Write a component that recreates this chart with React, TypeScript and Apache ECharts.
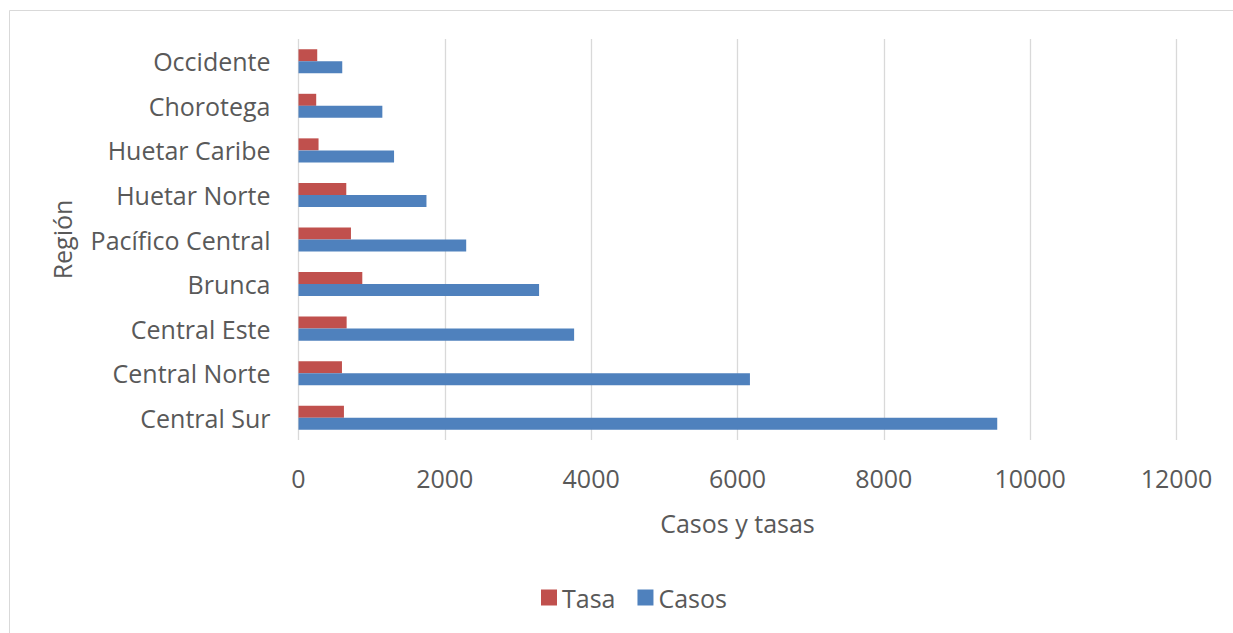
import React, { useEffect, useRef } from "react";
import * as echarts from "echarts";

// Regions, listed from the bottom of the chart to the top
const regions = [
  "Central Sur",
  "Central Norte",
  "Central Este",
  "Brunca",
  "Pacífico Central",
  "Huetar Norte",
  "Huetar Caribe",
  "Chorotega",
  "Occidente",
];

const casos = [9550, 6170, 3767, 3288, 2292, 1749, 1306, 1146, 598];
const tasa = [621, 594, 658, 872, 717, 653, 274, 242, 256];

const xTicks = { min: 0, max: 12000, interval: 2000 };

const FONT = "'Open Sans', 'Noto Sans', sans-serif";
const TEXT = "#595959";
const GRID = "#d9d9d9";

export default function App() {
  const ref = useRef<HTMLDivElement>(null);

  useEffect(() => {
    if (!ref.current) return;
    const chart = echarts.init(ref.current, undefined, { renderer: "svg" });
    chart.setOption({
      animation: false,
      backgroundColor: "#ffffff",
      textStyle: { fontFamily: FONT, color: TEXT },
      graphic: [
        {
          type: "rect",
          shape: { x: 9.5, y: 10.5, width: 1240, height: 640 },
          style: { fill: "none", stroke: GRID, lineWidth: 1 },
          silent: true,
        },
      ],
      grid: { left: 298.5, right: 56.5, top: 39, bottom: 193 },
      legend: {
        data: ["Tasa", "Casos"],
        left: 536,
        top: 580,
        itemWidth: 16,
        itemHeight: 16,
        itemGap: 22,
        icon: "rect",
        textStyle: { fontFamily: FONT, fontSize: 25, color: TEXT },
      },
      xAxis: {
        type: "value",
        min: xTicks.min,
        max: xTicks.max,
        interval: xTicks.interval,
        name: "Casos y tasas",
        nameLocation: "middle",
        nameGap: 70,
        nameTextStyle: { fontFamily: FONT, fontSize: 25, color: TEXT },
        axisLine: { show: false },
        axisTick: { show: false },
        axisLabel: {
          fontFamily: FONT,
          fontSize: 25,
          color: TEXT,
          margin: 25,
          formatter: (v: number) => String(v),
        },
        splitLine: { show: true, lineStyle: { color: GRID, width: 1.3 } },
      },
      yAxis: {
        type: "category",
        data: regions,
        name: "Región",
        nameLocation: "middle",
        nameGap: 224,
        nameRotate: 90,
        nameTextStyle: { fontFamily: FONT, fontSize: 25, color: TEXT },
        axisLine: { show: false },
        axisTick: { show: false },
        axisLabel: { fontFamily: FONT, fontSize: 25, color: TEXT, margin: 28 },
        splitLine: { show: false },
      },
      // Within each category the first series sits on top
      series: [
        {
          name: "Tasa",
          type: "bar",
          data: tasa,
          itemStyle: { color: "#C0504D" },
          barGap: "0%",
          barCategoryGap: "46%",
        },
        {
          name: "Casos",
          type: "bar",
          data: casos,
          itemStyle: { color: "#4F81BD" },
          barGap: "0%",
          barCategoryGap: "46%",
        },
      ],
    });
    return () => chart.dispose();
  }, []);

  return (
    <div
      ref={ref}
      style={{ position: "absolute", left: 0, top: 0, width: 1233, height: 633 }}
    />
  );
}
